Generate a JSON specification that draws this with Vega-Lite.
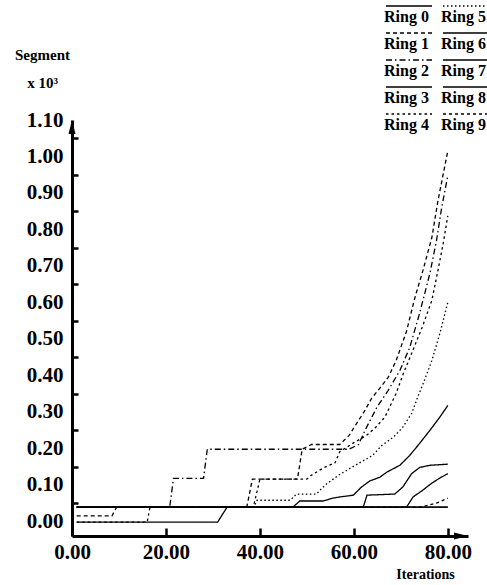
{
  "$schema": "https://vega.github.io/schema/vega-lite/v6.json",
  "width": 396,
  "height": 416,
  "autosize": {"type": "none"},
  "padding": {"left": 72, "top": 120, "right": 19, "bottom": 49},
  "background": "white",
  "config": {
    "view": {"stroke": null},
    "font": "Liberation Serif",
    "legend": {"padding": 0}
  },
  "datasets": {
    "rings": [
      {"ring": "Ring 0", "iter": 1, "seg": 0.038}, {"ring": "Ring 0", "iter": 80, "seg": 0.038},

      {"ring": "Ring 1", "iter": 1, "seg": 0.014}, {"ring": "Ring 1", "iter": 8.5, "seg": 0.014},
      {"ring": "Ring 1", "iter": 9.5, "seg": 0.038}, {"ring": "Ring 1", "iter": 37.2, "seg": 0.038},
      {"ring": "Ring 1", "iter": 38.4, "seg": 0.115}, {"ring": "Ring 1", "iter": 48, "seg": 0.115},
      {"ring": "Ring 1", "iter": 49, "seg": 0.197}, {"ring": "Ring 1", "iter": 51, "seg": 0.21},
      {"ring": "Ring 1", "iter": 57, "seg": 0.21}, {"ring": "Ring 1", "iter": 59, "seg": 0.235},
      {"ring": "Ring 1", "iter": 60.6, "seg": 0.268}, {"ring": "Ring 1", "iter": 62.2, "seg": 0.3},
      {"ring": "Ring 1", "iter": 63.8, "seg": 0.337}, {"ring": "Ring 1", "iter": 65.5, "seg": 0.364},
      {"ring": "Ring 1", "iter": 67.3, "seg": 0.394}, {"ring": "Ring 1", "iter": 69, "seg": 0.44},
      {"ring": "Ring 1", "iter": 71.2, "seg": 0.52}, {"ring": "Ring 1", "iter": 73, "seg": 0.613},
      {"ring": "Ring 1", "iter": 74.7, "seg": 0.687}, {"ring": "Ring 1", "iter": 76.6, "seg": 0.777},
      {"ring": "Ring 1", "iter": 77.9, "seg": 0.878}, {"ring": "Ring 1", "iter": 79, "seg": 0.95},
      {"ring": "Ring 1", "iter": 80, "seg": 1.015},

      {"ring": "Ring 2", "iter": 1, "seg": 0.038}, {"ring": "Ring 2", "iter": 20.8, "seg": 0.038},
      {"ring": "Ring 2", "iter": 21.6, "seg": 0.117}, {"ring": "Ring 2", "iter": 28, "seg": 0.117},
      {"ring": "Ring 2", "iter": 28.8, "seg": 0.197}, {"ring": "Ring 2", "iter": 59, "seg": 0.197},
      {"ring": "Ring 2", "iter": 61, "seg": 0.21}, {"ring": "Ring 2", "iter": 62.7, "seg": 0.257},
      {"ring": "Ring 2", "iter": 64.9, "seg": 0.312}, {"ring": "Ring 2", "iter": 67.3, "seg": 0.358},
      {"ring": "Ring 2", "iter": 69.8, "seg": 0.413}, {"ring": "Ring 2", "iter": 71.9, "seg": 0.476},
      {"ring": "Ring 2", "iter": 74, "seg": 0.57}, {"ring": "Ring 2", "iter": 76.2, "seg": 0.68},
      {"ring": "Ring 2", "iter": 77.6, "seg": 0.77}, {"ring": "Ring 2", "iter": 78.7, "seg": 0.86},
      {"ring": "Ring 2", "iter": 80, "seg": 0.947},

      {"ring": "Ring 3", "iter": 1, "seg": -0.003}, {"ring": "Ring 3", "iter": 31, "seg": -0.003},
      {"ring": "Ring 3", "iter": 33, "seg": 0.038}, {"ring": "Ring 3", "iter": 80, "seg": 0.038},

      {"ring": "Ring 4", "iter": 1, "seg": -0.003}, {"ring": "Ring 4", "iter": 16, "seg": -0.003},
      {"ring": "Ring 4", "iter": 16.6, "seg": 0.038}, {"ring": "Ring 4", "iter": 38.6, "seg": 0.038},
      {"ring": "Ring 4", "iter": 40, "seg": 0.115}, {"ring": "Ring 4", "iter": 50, "seg": 0.115},
      {"ring": "Ring 4", "iter": 51, "seg": 0.126}, {"ring": "Ring 4", "iter": 53.4, "seg": 0.145},
      {"ring": "Ring 4", "iter": 56, "seg": 0.16}, {"ring": "Ring 4", "iter": 57, "seg": 0.19},
      {"ring": "Ring 4", "iter": 60, "seg": 0.215}, {"ring": "Ring 4", "iter": 62.7, "seg": 0.235},
      {"ring": "Ring 4", "iter": 64.5, "seg": 0.255}, {"ring": "Ring 4", "iter": 66.6, "seg": 0.285},
      {"ring": "Ring 4", "iter": 69, "seg": 0.35}, {"ring": "Ring 4", "iter": 70.4, "seg": 0.4},
      {"ring": "Ring 4", "iter": 72.3, "seg": 0.46}, {"ring": "Ring 4", "iter": 74.5, "seg": 0.53},
      {"ring": "Ring 4", "iter": 76.6, "seg": 0.605}, {"ring": "Ring 4", "iter": 77.9, "seg": 0.687},
      {"ring": "Ring 4", "iter": 79, "seg": 0.76}, {"ring": "Ring 4", "iter": 80, "seg": 0.837},

      {"ring": "Ring 5", "iter": 1, "seg": 0.038}, {"ring": "Ring 5", "iter": 38.7, "seg": 0.038},
      {"ring": "Ring 5", "iter": 39.4, "seg": 0.057}, {"ring": "Ring 5", "iter": 46.4, "seg": 0.057},
      {"ring": "Ring 5", "iter": 47.8, "seg": 0.074}, {"ring": "Ring 5", "iter": 52, "seg": 0.074},
      {"ring": "Ring 5", "iter": 54, "seg": 0.1}, {"ring": "Ring 5", "iter": 57, "seg": 0.128},
      {"ring": "Ring 5", "iter": 61, "seg": 0.158}, {"ring": "Ring 5", "iter": 64, "seg": 0.18},
      {"ring": "Ring 5", "iter": 66, "seg": 0.208}, {"ring": "Ring 5", "iter": 68.4, "seg": 0.23},
      {"ring": "Ring 5", "iter": 70.4, "seg": 0.257}, {"ring": "Ring 5", "iter": 72.3, "seg": 0.295},
      {"ring": "Ring 5", "iter": 73.6, "seg": 0.34}, {"ring": "Ring 5", "iter": 74.7, "seg": 0.375},
      {"ring": "Ring 5", "iter": 76.6, "seg": 0.44}, {"ring": "Ring 5", "iter": 78.3, "seg": 0.514},
      {"ring": "Ring 5", "iter": 80, "seg": 0.6},

      {"ring": "Ring 6", "iter": 1, "seg": 0.038}, {"ring": "Ring 6", "iter": 47, "seg": 0.038},
      {"ring": "Ring 6", "iter": 48.5, "seg": 0.055}, {"ring": "Ring 6", "iter": 53.4, "seg": 0.055},
      {"ring": "Ring 6", "iter": 55.6, "seg": 0.063}, {"ring": "Ring 6", "iter": 57, "seg": 0.066},
      {"ring": "Ring 6", "iter": 59.9, "seg": 0.071}, {"ring": "Ring 6", "iter": 61.6, "seg": 0.093},
      {"ring": "Ring 6", "iter": 63.4, "seg": 0.11}, {"ring": "Ring 6", "iter": 65.5, "seg": 0.12},
      {"ring": "Ring 6", "iter": 67, "seg": 0.134}, {"ring": "Ring 6", "iter": 69.8, "seg": 0.153},
      {"ring": "Ring 6", "iter": 71.9, "seg": 0.18}, {"ring": "Ring 6", "iter": 74, "seg": 0.213},
      {"ring": "Ring 6", "iter": 76.2, "seg": 0.249}, {"ring": "Ring 6", "iter": 78.3, "seg": 0.285},
      {"ring": "Ring 6", "iter": 80, "seg": 0.317},

      {"ring": "Ring 7", "iter": 1, "seg": 0.038}, {"ring": "Ring 7", "iter": 62, "seg": 0.038},
      {"ring": "Ring 7", "iter": 62.8, "seg": 0.071}, {"ring": "Ring 7", "iter": 68.7, "seg": 0.074},
      {"ring": "Ring 7", "iter": 70.4, "seg": 0.093}, {"ring": "Ring 7", "iter": 72.3, "seg": 0.13},
      {"ring": "Ring 7", "iter": 74, "seg": 0.147}, {"ring": "Ring 7", "iter": 76.2, "seg": 0.153},
      {"ring": "Ring 7", "iter": 80, "seg": 0.156},

      {"ring": "Ring 8", "iter": 1, "seg": 0.038}, {"ring": "Ring 8", "iter": 71.2, "seg": 0.038},
      {"ring": "Ring 8", "iter": 72.6, "seg": 0.066}, {"ring": "Ring 8", "iter": 74.7, "seg": 0.085},
      {"ring": "Ring 8", "iter": 76.6, "seg": 0.104}, {"ring": "Ring 8", "iter": 78.3, "seg": 0.118},
      {"ring": "Ring 8", "iter": 80, "seg": 0.13},

      {"ring": "Ring 9", "iter": 1, "seg": 0.038}, {"ring": "Ring 9", "iter": 74, "seg": 0.038},
      {"ring": "Ring 9", "iter": 77.6, "seg": 0.049}, {"ring": "Ring 9", "iter": 80, "seg": 0.063}
    ]
  },
  "layer": [
    {
      "data": {"name": "rings"},
      "mark": {"type": "line", "color": "black", "strokeWidth": 1.3},
      "encoding": {
        "x": {
          "field": "iter", "type": "quantitative",
          "scale": {"domain": [0, 84.3], "nice": false, "zero": false},
          "axis": {
            "values": [0, 20, 40, 60, 80], "tickCount": 20, "format": ".2f",
            "title": "Iterations", "titleX": 353, "titleY": 42, "titleAlign": "center",
            "titleBaseline": "alphabetic", "titleFont": "Liberation Serif", "titleFontWeight": "bold",
            "titleFontSize": 14, "titleColor": "black",
            "labelFont": "Liberation Serif", "labelFontWeight": "bold", "labelFontSize": 21,
            "labelColor": "black", "labelFlush": false, "labelOverlap": false, "labelPadding": 13,
            "domainColor": "black", "domainWidth": 3, "tickColor": "black", "tickWidth": 2.5,
            "tickSize": -8, "grid": false
          }
        },
        "y": {
          "field": "seg", "type": "quantitative",
          "scale": {"domain": [-0.041, 1.1], "nice": false, "zero": false},
          "axis": {
            "values": [0, 0.1, 0.2, 0.3, 0.4, 0.5, 0.6, 0.7, 0.8, 0.9, 1.0, 1.1], "tickCount": 20, "format": ".2f",
            "title": ["Segment", "x 10³"], "titleAngle": 0, "titleX": -30, "titleY": -61,
            "titleAlign": "center", "titleBaseline": "alphabetic", "titleLineHeight": 28,
            "titleFont": "Liberation Serif", "titleFontWeight": "bold", "titleFontSize": 15, "titleColor": "black",
            "labelFont": "Liberation Serif", "labelFontWeight": "bold", "labelFontSize": 21,
            "labelColor": "black", "labelFlush": false, "labelOverlap": false, "labelBound": false,
            "labelPadding": 15, "tickOffset": -18, "labelOffset": 18,
            "domainColor": "black", "domainWidth": 3, "tickColor": "black", "tickWidth": 2.5,
            "tickOpacity": {"condition": {"test": "datum.value > 1.05", "value": 0}, "value": 1},
            "tickSize": -6, "grid": false
          }
        },
        "strokeDash": {
          "field": "ring", "type": "nominal",
          "scale": {
            "domain": ["Ring 0", "Ring 1", "Ring 2", "Ring 3", "Ring 4", "Ring 5", "Ring 6", "Ring 7", "Ring 8", "Ring 9"],
            "range": [[1, 0], [4, 3], [6, 3, 1.5, 3], [1, 0], [2.5, 3], [1.5, 2.5], [1, 0], [1, 0], [1, 0], [3, 3]]
          },
          "legend": {
            "orient": "none", "legendX": 306, "legendY": -111, "columns": 2, "title": null,
            "symbolType": "M0,-11H46", "symbolSize": 4, "symbolStrokeColor": "black",
            "symbolStrokeWidth": 1.3, "symbolFillColor": "transparent",
            "labelFont": "Liberation Serif", "labelFontWeight": "bold", "labelFontSize": 16,
            "labelColor": "black", "labelOffset": -10, "labelLimit": 0,
            "rowPadding": 5, "columnPadding": -3
          }
        }
      }
    },
    {
      "data": {"values": [{"iter": 0, "seg": 1.1}]},
      "mark": {"type": "point", "shape": "M0,0L-1,4L1,4Z", "size": 49, "filled": true, "color": "black", "opacity": 1, "strokeWidth": 0},
      "encoding": {
        "x": {"field": "iter", "type": "quantitative"},
        "y": {"field": "seg", "type": "quantitative"}
      }
    },
    {
      "data": {"values": [{"iter": 84.3, "seg": -0.041}]},
      "mark": {"type": "point", "shape": "M0,0L-4,-1L-4,1Z", "size": 49, "filled": true, "color": "black", "opacity": 1, "strokeWidth": 0},
      "encoding": {
        "x": {"field": "iter", "type": "quantitative"},
        "y": {"field": "seg", "type": "quantitative"}
      }
    }
  ]
}
